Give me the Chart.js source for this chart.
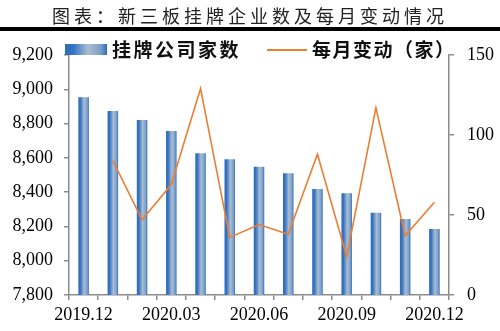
<!DOCTYPE html>
<html>
<head>
<meta charset="utf-8">
<script src="https://cdn.jsdelivr.net/npm/chart.js@4"></script>
<style>
  html, body { margin: 0; padding: 0; background: #fff; }
  #wrap { position: relative; width: 500px; height: 331px; overflow: hidden; }
  #title {
    position: absolute; left: 0; top: 3px; width: 500px; height: 24px;
    text-align: center; font-family: "Noto Sans CJK SC"; font-size: 18px;
    letter-spacing: 4px; line-height: 24px; color: #222;
  }
  #rule { position: absolute; left: 0; top: 27px; width: 500px; height: 4px; background: #000; }
  #chartContainer { position: absolute; left: 0; top: 0; }
</style>
</head>
<body>
<div id="wrap">
  <canvas id="chartContainer" width="500" height="331"></canvas>
  <div id="title">图表：新三板挂牌企业数及每月变动情况</div>
  <div id="rule"></div>
</div>
<script>
const months = ['2019.12', '2020.01', '2020.02', '2020.03', '2020.04', '2020.05', '2020.06',
                '2020.07', '2020.08', '2020.09', '2020.10', '2020.11', '2020.12'];
const listedCompanies = [8953, 8873, 8821, 8757, 8627, 8592, 8548, 8510, 8418, 8393, 8280, 8243, 8185];
const monthlyChange = [null, 84, 47, 69, 129, 36, 44, 38, 88, 24, 117, 37, 58];
const barLabel = '挂牌公司家数';
const lineLabel = '每月变动（家）';

const axisColor = '#8c8c8c';
const lineColor = '#ed7d31';
const tickFont = { family: 'Liberation Serif', size: 18 };

// horizontal blue-grey gradient spanning [x0, x1]
function barGradient(ctx, x0, x1) {
    const g = ctx.createLinearGradient(x0, 0, x1, 0);
    g.addColorStop(0, '#2c6cc0');
    g.addColorStop(0.2, '#3673c2');
    g.addColorStop(0.55, '#aabdd1');
    g.addColorStop(0.85, '#7c9fc8');
    g.addColorStop(1, '#2c6cc0');
    return g;
}

// give every bar its own gradient before drawing
const barShading = {
    id: 'barShading',
    beforeDatasetsDraw(chart) {
        const ctx = chart.ctx;
        chart.getSortedVisibleDatasetMetas().forEach(meta => {
            if (meta.type !== 'bar') return;
            meta.data.forEach(bar => {
                const half = bar.width / 2;
                bar.options.backgroundColor = barGradient(ctx, bar.x - half, bar.x + half);
            });
        });
    }
};

// legend row across the top of the plot
const topLegend = {
    id: 'topLegend',
    afterDraw(chart) {
        const ctx = chart.ctx;
        ctx.save();
        ctx.fillStyle = barGradient(ctx, 65, 107);
        ctx.fillRect(65, 44, 42, 11);
        ctx.strokeStyle = lineColor;
        ctx.lineWidth = 2;
        ctx.beginPath();
        ctx.moveTo(267, 50);
        ctx.lineTo(307, 50);
        ctx.stroke();
        ctx.fillStyle = '#111';
        ctx.font = 'bold 19px "Noto Sans CJK SC"';
        ctx.textBaseline = 'middle';
        ctx.letterSpacing = '2.5px';
        ctx.fillText(barLabel, 112, 50);
        ctx.letterSpacing = '1.5px';
        ctx.fillText(lineLabel, 312, 50);
        ctx.restore();
    }
};

new Chart(document.getElementById('chartContainer'), {
    type: 'bar',
    data: {
        labels: months,
        datasets: [{
            type: 'line',
            label: lineLabel,
            data: monthlyChange,
            yAxisID: 'y1',
            borderColor: lineColor,
            borderWidth: 1.6,
            pointRadius: 0,
            tension: 0,
            fill: false,
            order: 0
        }, {
            type: 'bar',
            label: barLabel,
            data: listedCompanies,
            yAxisID: 'y',
            // scriptable so each bar keeps its own options object
            backgroundColor: () => '#5b8ccc',
            borderWidth: 0,
            categoryPercentage: 1,
            barPercentage: 0.36,
            order: 1
        }]
    },
    options: {
        responsive: false,
        animation: false,
        devicePixelRatio: 1,
        layout: { padding: { top: 55, left: 0, right: 0, bottom: 0 } },
        plugins: {
            legend: { display: false },
            tooltip: { enabled: false }
        },
        scales: {
            x: {
                offset: true,
                grid: { display: true, drawOnChartArea: false, drawTicks: true, tickLength: 5, color: axisColor, lineWidth: 1.5, offset: true },
                border: { display: true, color: axisColor, width: 1.5 },
                ticks: {
                    autoSkip: false,
                    maxRotation: 0,
                    padding: 4,
                    color: '#000',
                    font: tickFont,
                    callback: (value, index) => index % 3 === 0 ? months[index] : ''
                },
                afterFit: scale => { scale.height = 36; }
            },
            y: {
                position: 'left',
                min: 7800,
                max: 9200,
                grid: { display: true, drawOnChartArea: false, drawTicks: true, tickLength: 5, color: axisColor, lineWidth: 1.5 },
                border: { display: true, color: axisColor, width: 1.5 },
                ticks: {
                    stepSize: 200,
                    padding: 11,
                    color: '#000',
                    font: tickFont,
                    callback: v => v.toLocaleString('en-US')
                },
                afterFit: scale => { scale.width = 69; }
            },
            y1: {
                position: 'right',
                min: 0,
                max: 150,
                grid: { display: true, drawOnChartArea: false, drawTicks: true, tickLength: 5, color: axisColor, lineWidth: 1.5 },
                border: { display: true, color: axisColor, width: 1.5 },
                ticks: {
                    stepSize: 50,
                    padding: 13,
                    color: '#000',
                    font: tickFont
                },
                afterFit: scale => { scale.width = 51; }
            }
        }
    },
    plugins: [barShading, topLegend]
});
</script>
</body>
</html>
